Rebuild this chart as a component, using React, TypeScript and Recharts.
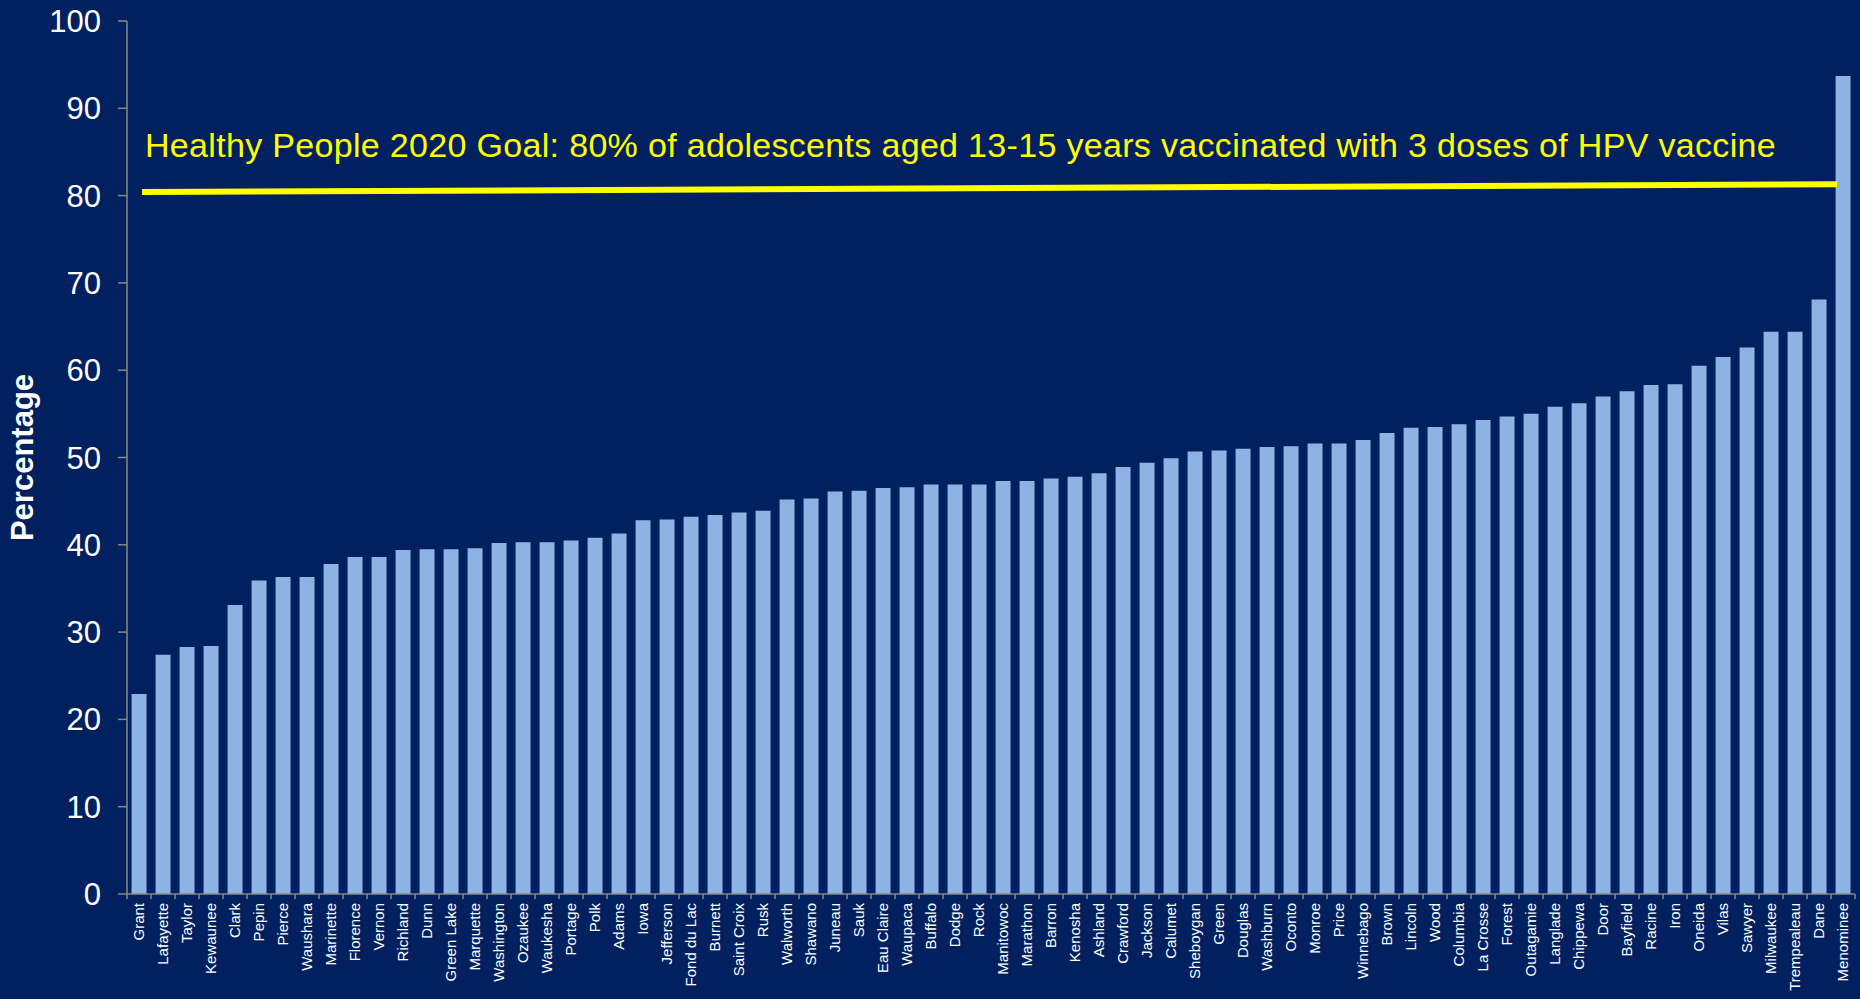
import React from 'react';
import { BarChart, Bar, XAxis, YAxis, ReferenceLine, Label } from 'recharts';

const counties = [
  'Grant', 'Lafayette', 'Taylor', 'Kewaunee', 'Clark', 'Pepin', 'Pierce', 'Waushara', 'Marinette', 'Florence',
  'Vernon', 'Richland', 'Dunn', 'Green Lake', 'Marquette', 'Washington', 'Ozaukee', 'Waukesha', 'Portage', 'Polk',
  'Adams', 'Iowa', 'Jefferson', 'Fond du Lac', 'Burnett', 'Saint Croix', 'Rusk', 'Walworth', 'Shawano', 'Juneau',
  'Sauk', 'Eau Claire', 'Waupaca', 'Buffalo', 'Dodge', 'Rock', 'Manitowoc', 'Marathon', 'Barron', 'Kenosha',
  'Ashland', 'Crawford', 'Jackson', 'Calumet', 'Sheboygan', 'Green', 'Douglas', 'Washburn', 'Oconto', 'Monroe',
  'Price', 'Winnebago', 'Brown', 'Lincoln', 'Wood', 'Columbia', 'La Crosse', 'Forest', 'Outagamie', 'Langlade',
  'Chippewa', 'Door', 'Bayfield', 'Racine', 'Iron', 'Oneida', 'Vilas', 'Sawyer', 'Milwaukee', 'Trempealeau',
  'Dane', 'Menominee',
];

const percentages = [
  22.9, 27.4, 28.3, 28.4, 33.1, 35.9, 36.3, 36.3, 37.8, 38.6,
  38.6, 39.4, 39.5, 39.5, 39.6, 40.2, 40.3, 40.3, 40.5, 40.8,
  41.3, 42.8, 42.9, 43.2, 43.4, 43.7, 43.9, 45.2, 45.3, 46.1,
  46.2, 46.5, 46.6, 46.9, 46.9, 46.9, 47.3, 47.3, 47.6, 47.8,
  48.2, 48.9, 49.4, 49.9, 50.7, 50.8, 51.0, 51.2, 51.3, 51.6,
  51.6, 52.0, 52.8, 53.4, 53.5, 53.8, 54.3, 54.7, 55.0, 55.8,
  56.2, 57.0, 57.6, 58.3, 58.4, 60.5, 61.5, 62.6, 64.4, 64.4,
  68.1, 93.7,
];

const yTicks = [0, 10, 20, 30, 40, 50, 60, 70, 80, 90, 100];

// goal line as drawn on the slide (it drifts up a little towards the right)
const goalStart = 80.4;
const goalEnd = 81.3;
const goalText = 'Healthy People 2020 Goal: 80% of adolescents aged 13-15 years vaccinated with 3 doses of HPV vaccine';

const data = counties.map((county, i) => ({ county, value: percentages[i] }));

const W = 1860;
const H = 999;
const Y_AXIS_W = 127;
const RIGHT = 5;
const BAND = (W - Y_AXIS_W - RIGHT) / counties.length;
const FONT = '"Liberation Sans", Arial, sans-serif';
const BG = '#002060';
const AXIS = '#888888';

const CountyTick = (props: any) => {
  const { x, y, payload, index } = props;
  const half = BAND / 2;
  return (
    <g>
      <line x1={x - half} y1={y} x2={x - half} y2={y + 5} stroke={AXIS} strokeWidth={1.5} />
      {index === counties.length - 1 && (
        <line x1={x + half} y1={y} x2={x + half} y2={y + 5} stroke={AXIS} strokeWidth={1.5} />
      )}
      <text
        x={x}
        y={y + 9}
        dy="0.35em"
        transform={`rotate(-90, ${x}, ${y + 9})`}
        textAnchor="end"
        fill="#ffffff"
        fontSize={15}
        fontFamily={FONT}
      >
        {payload.value}
      </text>
    </g>
  );
};

const GoalLine = (props: any) => {
  const { x1, y1, x2, y2 } = props;
  return <line x1={x1 + 3} y1={y1} x2={x2 - 6} y2={y2} stroke="#ffff00" strokeWidth={6} />;
};

export default function App() {
  return (
    <div style={{ position: 'absolute', left: 0, top: 0, width: W, height: H, background: BG }}>
      <BarChart
        width={W}
        height={H}
        data={data}
        margin={{ top: 21, right: RIGHT, left: 0, bottom: 0 }}
        barCategoryGap="19%"
      >
        <XAxis
          dataKey="county"
          interval={0}
          height={105}
          tickSize={0}
          tickMargin={0}
          tickLine={false}
          axisLine={{ stroke: AXIS, strokeWidth: 1.5 }}
          tick={<CountyTick />}
        />
        <YAxis
          width={Y_AXIS_W}
          domain={[0, 100]}
          ticks={yTicks}
          interval={0}
          tickSize={9}
          tickMargin={17}
          axisLine={{ stroke: AXIS, strokeWidth: 1.5 }}
          tickLine={{ stroke: AXIS, strokeWidth: 1.5 }}
          tick={{ fill: '#ffffff', fontSize: 31, fontFamily: FONT }}
        >
          <Label
            content={(p: any) => {
              const vb = p.viewBox || { x: 0, y: 21, height: 873 };
              const cx = vb.x + 22;
              const cy = vb.y + vb.height / 2;
              return (
                <text
                  x={cx}
                  y={cy}
                  dy="0.35em"
                  transform={`rotate(-90, ${cx}, ${cy})`}
                  textAnchor="middle"
                  fill="#ffffff"
                  fontSize={31}
                  fontWeight="bold"
                  fontFamily={FONT}
                >
                  Percentage
                </text>
              );
            }}
          />
        </YAxis>
        <Bar dataKey="value" fill="#8db3e2" isAnimationActive={false} />
        <ReferenceLine
          segment={[
            { x: counties[0], y: goalStart },
            { x: counties[counties.length - 1], y: goalEnd },
          ]}
          shape={<GoalLine />}
          label={(p: any) => {
            const vb = p.viewBox || { x: 139, y: 185 };
            return (
              <text
                x={vb.x + 6}
                y={vb.y - 27}
                fill="#ffff00"
                fontSize={34}
                letterSpacing={0.32}
                fontFamily={FONT}
              >
                {goalText}
              </text>
            );
          }}
        />
      </BarChart>
    </div>
  );
}
